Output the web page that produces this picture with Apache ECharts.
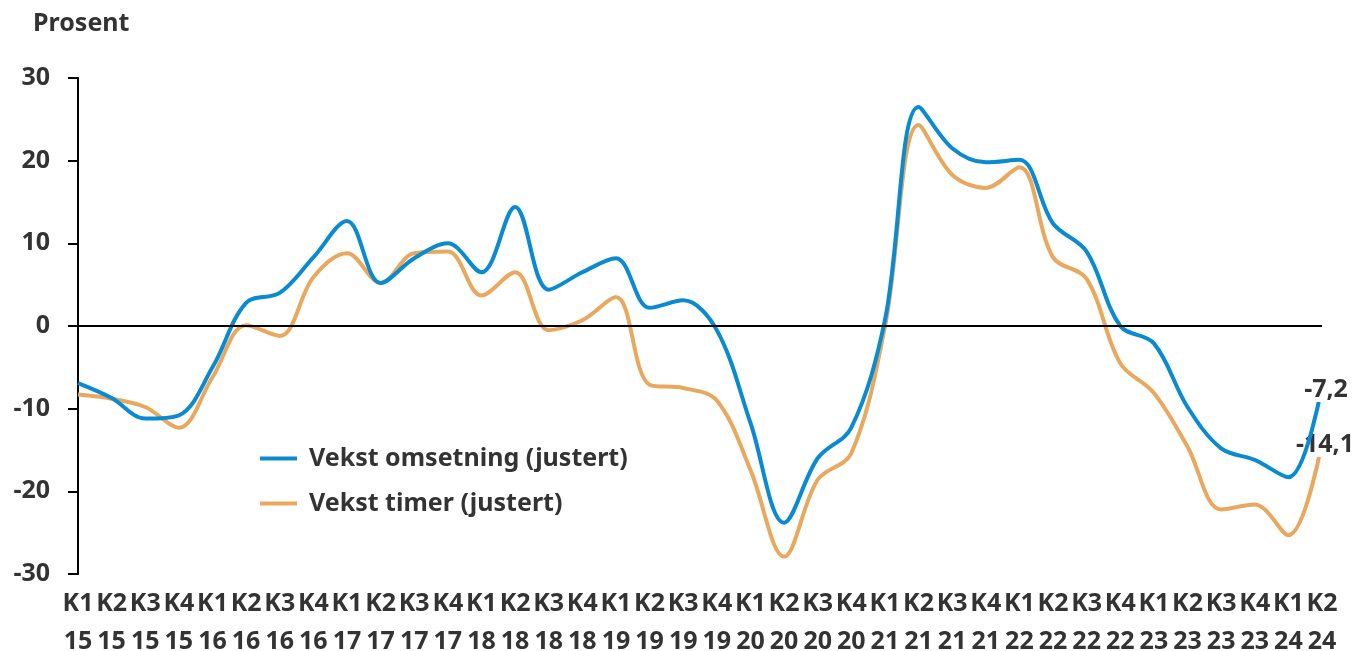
<!DOCTYPE html>
<html>
<head>
<meta charset="utf-8">
<script src="https://cdn.jsdelivr.net/npm/echarts@6/dist/echarts.min.js"></script>
<style>html,body{margin:0;padding:0;background:#fff}#c{width:1358px;height:651px}</style>
</head>
<body>
<div id="c"></div>
<script>
const quarters = ['K1','K2','K3','K4'];
const years = ['15','16','17','18','19','20','21','22','23','24'];
const categories = [];
years.forEach(y => quarters.forEach(q => categories.push(q + '\n' + y)));
categories.length = 38; // K1 15 .. K2 24

const omsetning = [-6.9, -8.7, -11.2, -10.8, -5.0, 2.8, 4.0, 8.3, 12.7, 5.2, 8.2, 10.0,
  6.5, 14.4, 4.4, 6.5, 8.2, 2.2, 3.1, -0.5, -11.7, -23.8, -16.0, -12.3,
  0.7, 26.5, 21.5, 19.8, 20.1, 12.4, 9.0, 0.0, -2.1, -9.8, -14.8, -16.2, -18.3, -7.2];
const timer = [-8.3, -8.8, -9.8, -12.3, -6.2, 0.1, -1.2, 5.9, 8.8, 5.2, 8.8, 9.0,
  3.7, 6.5, -0.5, 0.7, 3.5, -7.1, -7.5, -9.0, -17.4, -27.9, -18.6, -15.4,
  -0.1, 24.3, 18.3, 16.7, 19.2, 8.3, 5.7, -4.5, -8.1, -14.6, -22.2, -21.6, -25.3, -14.1];

const BLUE = '#0a8ad0', ORANGE = '#e8a95f', TXT = '#333333';
const FONT = 'Noto Sans';
const FS = 25;

function withEndLabel(arr, offset) {
  return arr.map((v, i) => i === arr.length - 1 ? {
    value: v,
    label: {
      show: true, position: 'inside', offset: offset,
      formatter: p => String(p.value).replace('.', ','),
      color: TXT, fontFamily: FONT, fontWeight: 'bold', fontSize: FS,
      backgroundColor: '#fff', padding: [0, 2]
    }
  } : v);
}

const chart = echarts.init(document.getElementById('c'));
chart.setOption({
  animation: false,
  textStyle: { fontFamily: FONT },
  title: {
    text: 'Prosent', left: 28, top: 6,
    textStyle: { fontFamily: FONT, fontWeight: 'bold', fontSize: FS, color: TXT }
  },
  legend: {
    orient: 'vertical', left: 255, top: 440, itemGap: 18,
    itemWidth: 37, itemHeight: 4, icon: 'rect',
    textStyle: { fontFamily: FONT, fontWeight: 'bold', fontSize: FS, lineHeight: 27, color: TXT, padding: [0, 0, 0, 7] },
    data: ['Vekst omsetning (justert)', 'Vekst timer (justert)']
  },
  grid: { left: 78, right: 36, top: 78, bottom: 77, outerBoundsMode: 'none', containLabel: false },
  xAxis: {
    type: 'category', data: categories, boundaryGap: false,
    axisLine: { show: false, onZero: false }, axisTick: { show: false },
    axisLabel: {
      interval: 0, margin: 11, lineHeight: 38, hideOverlap: false,
      fontFamily: FONT, fontWeight: 'bold', fontSize: FS, color: TXT
    },
    splitLine: { show: false }
  },
  yAxis: {
    type: 'value', min: -30, max: 30, interval: 10,
    axisLine: { show: true, lineStyle: { color: '#000', width: 2 } },
    axisTick: { show: true, length: 10, lineStyle: { color: '#000', width: 2 } },
    axisLabel: { margin: 28, fontFamily: FONT, fontWeight: 'bold', fontSize: FS, color: TXT },
    splitLine: { show: false }
  },
  series: [
    {
      name: 'Vekst omsetning (justert)', type: 'line', smooth: 0.35,
      data: withEndLabel(omsetning, [4, 4]), symbol: 'circle', symbolSize: 0, showSymbol: true,
      lineStyle: { color: BLUE, width: 4 }, itemStyle: { color: BLUE }, z: 3,
      markLine: {
        silent: true, symbol: 'none', label: { show: false },
        lineStyle: { color: '#000', width: 2, type: 'solid' },
        data: [{ yAxis: 0 }]
      }
    },
    {
      name: 'Vekst timer (justert)', type: 'line', smooth: 0.35,
      data: withEndLabel(timer, [3, 2]), symbol: 'circle', symbolSize: 0, showSymbol: true,
      lineStyle: { color: ORANGE, width: 4 }, itemStyle: { color: ORANGE }, z: 2
    }
  ]
});
</script>
</body>
</html>
